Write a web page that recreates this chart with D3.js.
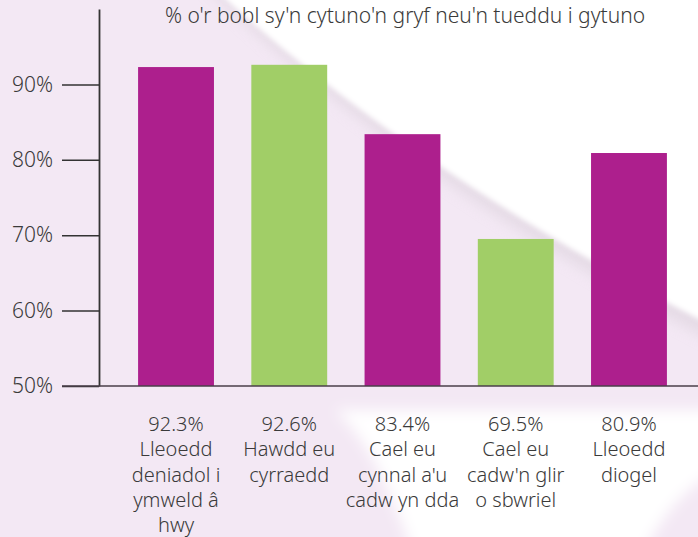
<!DOCTYPE html>
<html>
<head>
<meta charset="utf-8">
<script src="https://cdn.jsdelivr.net/npm/d3@7.9.0/dist/d3.min.js"></script>
<style>
  html, body { margin: 0; padding: 0; background: #f3e8f4; }
  svg { display: block; }
  text { font-family: "Noto Sans", "Open Sans", sans-serif; font-weight: 300; fill: #3a3a3a; }
</style>
</head>
<body>
<div id="chart"></div>
<script>
// data
const categories = ['lleoedd', 'hawdd', 'cynnal', 'sbwriel', 'diogel'];
const values = [92.3, 92.6, 83.4, 69.5, 80.9];
const labelLines = [
  ['Lleoedd', 'deniadol i', 'ymweld â', 'hwy'],
  ['Hawdd eu', 'cyrraedd'],
  ['Cael eu', "cynnal a'u", 'cadw yn dda'],
  ['Cael eu', "cadw'n glir", 'o sbwriel'],
  ['Lleoedd', 'diogel'],
];
const barColors = ['#ad1f8d', '#a1ce67', '#ad1f8d', '#a1ce67', '#ad1f8d'];
const yTicks = [50, 60, 70, 80, 90];
const title = "% o'r bobl sy'n cytuno'n gryf neu'n tueddu i gytuno";

const width = 698;
const height = 537;

const svg = d3.select('#chart')
  .append('svg')
  .attr('width', width)
  .attr('height', height);

// background: lavender with a soft white diagonal sheet
const defs = svg.append('defs');
defs.append('filter').attr('id', 'soft')
  .attr('x', '-20%').attr('y', '-20%').attr('width', '140%').attr('height', '140%')
  .append('feGaussianBlur').attr('stdDeviation', 2.5);
defs.append('filter').attr('id', 'shadow')
  .attr('x', '-20%').attr('y', '-20%').attr('width', '140%').attr('height', '140%')
  .append('feGaussianBlur').attr('stdDeviation', 7);

const bg = svg.append('g').attr('class', 'background');
bg.append('rect').attr('width', width).attr('height', height).attr('fill', '#f3e8f4');
bg.append('path')
  .attr('d', 'M200,-20 C280,60 440,200 720,345 L720,-20 Z')
  .attr('fill', '#dcd2dc')
  .attr('opacity', 0.6)
  .attr('filter', 'url(#shadow)');
bg.append('path')
  .attr('d', 'M205,-20 C285,55 445,190 720,330 L720,-20 Z')
  .attr('fill', '#ffffff')
  .attr('filter', 'url(#soft)');
bg.append('path')
  .attr('d', 'M335,410 L720,410 L720,470 C680,490 660,520 640,560 L415,560 C395,500 370,440 335,410 Z')
  .attr('fill', '#ffffff')
  .attr('filter', 'url(#shadow)');

// scales
const x = d3.scaleBand()
  .domain(categories)
  .range([119.4, 685.6])
  .paddingInner(0.33)
  .paddingOuter(0.165);

const y = d3.scaleLinear()
  .domain([50, 100])
  .range([386, 9]);

// bars
svg.append('g')
  .attr('class', 'bars')
  .selectAll('rect')
  .data(values)
  .join('rect')
  .attr('x', (d, i) => x(categories[i]))
  .attr('y', (d) => y(d))
  .attr('width', x.bandwidth())
  .attr('height', (d) => y(50) - y(d))
  .attr('fill', (d, i) => barColors[i]);

// y axis
const yAxis = d3.axisLeft(y)
  .tickValues(yTicks)
  .tickSize(37)
  .tickSizeOuter(0)
  .tickPadding(9)
  .tickFormat((d) => d + '%');

const yAxisG = svg.append('g')
  .attr('class', 'y-axis')
  .attr('transform', 'translate(99,0)')
  .call(yAxis);

yAxisG.select('.domain').attr('stroke', '#333').attr('stroke-width', 1.8);
yAxisG.selectAll('.tick line').attr('stroke', '#333').attr('stroke-width', 1.5);
yAxisG.selectAll('.tick text')
  .attr('font-size', 21)
  .style('font-family', '"Noto Sans", sans-serif')
  .style('font-weight', 300)
  .attr('fill', '#3a3a3a');

// baseline across the chart
svg.append('line')
  .attr('x1', 62).attr('x2', width)
  .attr('y1', y(50)).attr('y2', y(50))
  .attr('stroke', '#4a3f4a')
  .attr('stroke-width', 1.6);

// title
svg.append('text')
  .attr('x', 405)
  .attr('y', 23)
  .attr('text-anchor', 'middle')
  .attr('font-size', 21)
  .text(title);

// category labels under bars
const labels = svg.append('g')
  .attr('class', 'labels')
  .selectAll('text')
  .data(values)
  .join('text')
  .attr('x', (d, i) => x(categories[i]) + x.bandwidth() / 2)
  .attr('y', 431)
  .attr('text-anchor', 'middle')
  .attr('font-size', 20);

labels.each(function (d, i) {
  const t = d3.select(this);
  const lines = [d.toFixed(1) + '%'].concat(labelLines[i]);
  lines.forEach((line, j) => {
    t.append('tspan')
      .attr('x', x(categories[i]) + x.bandwidth() / 2)
      .attr('y', 431 + j * 25.3)
      .text(line);
  });
});
</script>
</body>
</html>
